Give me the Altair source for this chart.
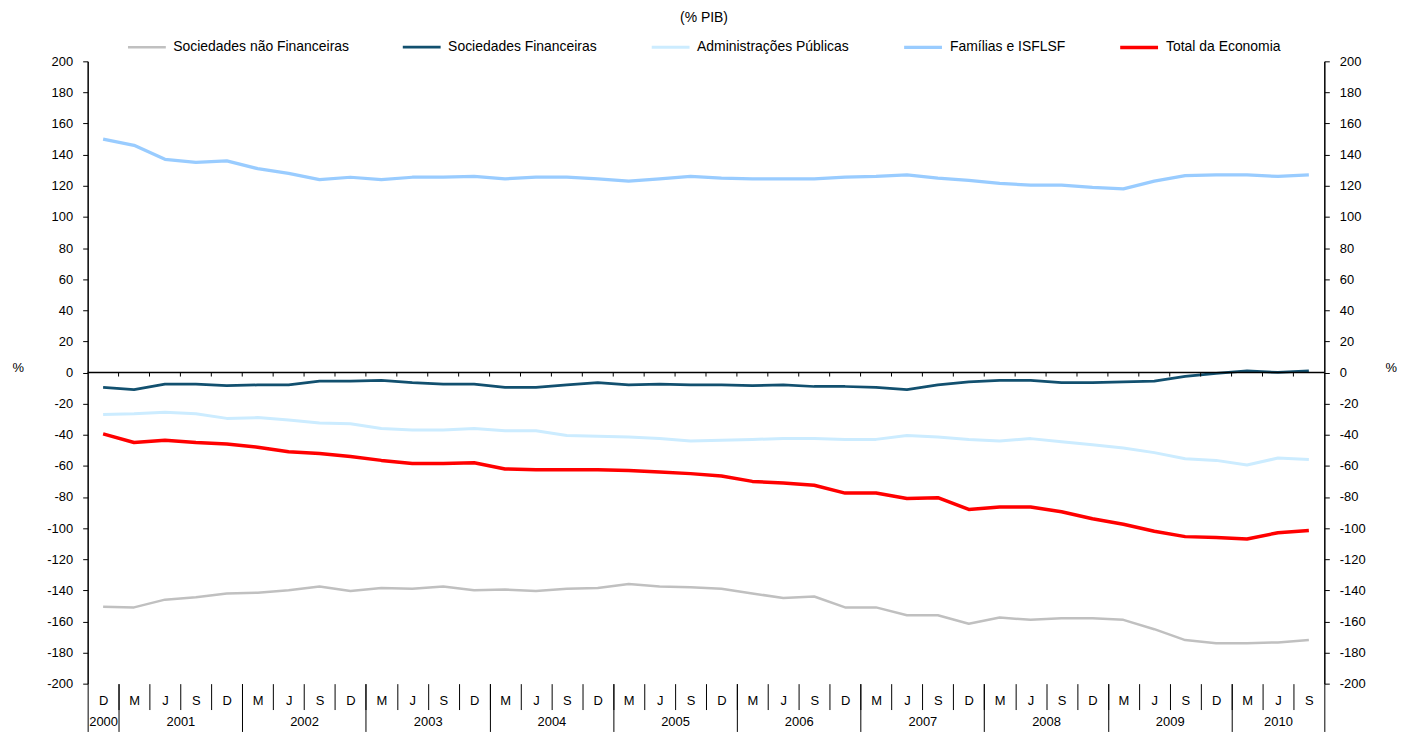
import altair as alt
import pandas as pd

# ---- categories (quarter letters and years) ----
months = ["D"] + ["M", "J", "S", "D"] * 9 + ["M", "J", "S"]
years = [2000] + [y for y in range(2001, 2010) for _ in range(4)] + [2010] * 3

# ---- series values (% PIB) ----
sociedades_nao_fin = [-150.5, -151, -146, -144.5, -142, -141.5, -140, -137.5, -140.5, -138.5,
                      -139, -137.5, -140, -139.5, -140.5, -139, -138.5, -136, -137.5, -138,
                      -139, -142, -145, -144, -151, -151, -156, -156, -161.5, -157.5,
                      -159, -158, -158, -159, -165, -172, -174, -174, -173.5, -172]
sociedades_fin = [-9.5, -11, -7.5, -7.5, -8.5, -8, -8, -5.5, -5.5, -5,
                  -6.5, -7.5, -7.5, -9.5, -9.5, -8, -6.5, -8, -7.5, -8,
                  -8, -8.5, -8, -9, -9, -9.5, -11, -8, -6, -5,
                  -5, -6.5, -6.5, -6, -5.5, -2.5, -0.5, 1, 0, 1]
admin_publicas = [-27, -26.5, -25.5, -26.5, -29.5, -29, -30.5, -32.5, -33, -36,
                  -37, -37, -36, -37.5, -37.5, -40.5, -41, -41.5, -42.5, -44,
                  -43.5, -43, -42.5, -42.5, -43, -43, -40.5, -41.5, -43, -44,
                  -42.5, -44.5, -46.5, -48.5, -51.5, -55.5, -56.5, -59.5, -55, -56]
familias = [150, 146, 137, 135, 136, 131, 128, 124, 125.5, 124,
            125.5, 125.5, 126, 124.5, 125.5, 125.5, 124.5, 123, 124.5, 126,
            125, 124.5, 124.5, 124.5, 125.5, 126, 127, 125, 123.5, 121.5,
            120.5, 120.5, 119, 118, 123, 126.5, 127, 127, 126, 127]
total_economia = [-39.5, -45, -43.5, -45, -46, -48, -51, -52, -54, -56.5,
                  -58.5, -58.5, -58, -62, -62.5, -62.5, -62.5, -63, -64, -65,
                  -66.5, -70, -71, -72.5, -77.5, -77.5, -81, -80.5, -88, -86.5,
                  -86.5, -89.5, -94, -97.5, -102, -105.5, -106, -107, -103, -101.5]

names = ["Sociedades não Financeiras", "Sociedades Financeiras", "Administrações Públicas",
         "Famílias e ISFLSF", "Total da Economia"]
colors = ["#C0C0C0", "#12506F", "#CCECFF", "#99CCFF", "#FF0000"]
widths = [2.5, 3.5, 3.5, 4, 4]
series = [sociedades_nao_fin, sociedades_fin, admin_publicas, familias, total_economia]

N = len(months)
rows = []
for name, vals in zip(names, series):
    for i, v in enumerate(vals):
        rows.append({"series": name, "i": i, "value": v})
df = pd.DataFrame(rows)

# derived positions for axes (category boundaries, year groups)
boundaries = [k + 0.5 for k in range(N - 1)]
year_bounds = [-0.5] + [k - 0.5 for k in range(1, N) if years[k] != years[k - 1]] + [N - 0.5]
year_groups = []
for y in sorted(set(years)):
    idx = [k for k, yy in enumerate(years) if yy == y]
    year_groups.append(((idx[0] + idx[-1]) / 2, str(y)))

month_expr = "[" + ",".join("'%s'" % m for m in months) + "][datum.value]"
year_expr = "''"
for c, lab in reversed(year_groups):
    year_expr = "datum.value == %s ? '%s' : (%s)" % (c, lab, year_expr)

FONT = "Liberation Sans"
xdom = [-0.5, N - 0.5]


def xs():
    return alt.Scale(domain=xdom, nice=False, zero=False)


def ys():
    return alt.Scale(domain=[-200, 200], nice=False, zero=False)


yvals = list(range(-200, 201, 20))

axis_left = alt.Axis(orient="left", values=yvals, grid=False, domainColor="black", domainWidth=1.5,
                     tickColor="black", tickSize=5, labelPadding=10, labelFontSize=13,
                     labelExpr="toString(datum.value)",
                     labelColor="black", labelFont=FONT, title="%", titleAngle=0, titleX=-76,
                     titleY=308, titleAlign="left", titleBaseline="middle", titleFontSize=13,
                     titleFontWeight="normal", titleFont=FONT, titleColor="black")
axis_right = alt.Axis(orient="right", values=yvals, grid=False, domainColor="black", domainWidth=1.5,
                      tickColor="black", tickSize=5, labelPadding=10, labelFontSize=13,
                      labelExpr="toString(datum.value)",
                      labelColor="black", labelFont=FONT, title="%", titleAngle=0, titleX=61,
                      titleY=308, titleAlign="left", titleBaseline="middle", titleFontSize=13,
                      titleFontWeight="normal", titleFont=FONT, titleColor="black")

axis_months = alt.Axis(orient="bottom", values=list(range(N)), labelExpr=month_expr, ticks=False,
                       domain=False, grid=False, labelPadding=11, labelFontSize=13, labelFont=FONT,
                       labelColor="black", labelAngle=0, labelFlush=False, labelOverlap=False,
                       title=None)
axis_cat_sep = alt.Axis(orient="bottom", values=boundaries, labels=False, domain=False, grid=False,
                        tickSize=26, tickColor="black", tickWidth=1, title=None)
axis_year_sep = alt.Axis(orient="bottom", values=year_bounds, labels=False, domain=False, grid=False,
                         tickSize=48, tickColor="black", tickWidth=1, title=None)
axis_years = alt.Axis(orient="bottom", values=[c for c, _ in year_groups], labelExpr=year_expr,
                      ticks=False, domain=False, grid=False, labelPadding=32, labelFontSize=13,
                      labelFont=FONT, labelColor="black", labelAngle=0, labelFlush=False,
                      labelOverlap=False, title=None)

lines = alt.Chart(df).mark_line(strokeCap="butt", strokeJoin="round").encode(
    x=alt.X("i:Q", scale=xs(), axis=axis_months),
    y=alt.Y("value:Q", scale=ys(), axis=axis_left),
    color=alt.Color("series:N", sort=names, scale=alt.Scale(domain=names, range=colors),
                    legend=alt.Legend(orient="none", legendX=39, legendY=-51, direction="horizontal",
                                      title="(% PIB)", titleAnchor="middle", titleOrient="top",
                                      titleFontSize=14, titleFontWeight="normal", titleFont=FONT,
                                      titleColor="black", titlePadding=2,
                                      symbolType="stroke", symbolSize=1444, symbolStrokeWidth=3.5,
                                      labelFontSize=14, labelFont=FONT, labelColor="black",
                                      labelOffset=6, columnPadding=48, padding=0,
                                      labelLimit=400)),
    strokeWidth=alt.StrokeWidth("series:N", sort=names,
                                scale=alt.Scale(domain=names, range=widths), legend=None),
    detail="series:N",
)

zero_line = alt.Chart(pd.DataFrame({"z": [0]})).mark_rule(color="black", strokeWidth=1.5).encode(
    x=alt.X(datum=xdom[0], type="quantitative", scale=xs(), axis=axis_cat_sep),
    x2=alt.X2(datum=xdom[1]),
    y=alt.Y(datum=0, type="quantitative", scale=ys(), axis=axis_right),
)

zero_ticks = alt.Chart(pd.DataFrame({"b": boundaries})).mark_rule(color="black", strokeWidth=1).encode(
    x=alt.X("b:Q", scale=xs(), axis=axis_year_sep),
    y=alt.Y(datum=0, type="quantitative", scale=ys(), axis=None),
    y2=alt.Y2(datum=-2.6),
)

year_anchor = alt.Chart(pd.DataFrame({"c": [c for c, _ in year_groups]})).mark_point(opacity=0).encode(
    x=alt.X("c:Q", scale=xs(), axis=axis_years),
    y=alt.Y(datum=0, type="quantitative", scale=ys(), axis=None),
)

chart = alt.layer(lines, zero_line, zero_ticks, year_anchor).resolve_scale(
    x="independent", y="independent"
).properties(
    width=1242, height=625,
    padding={"left": 80, "top": 52, "right": 74, "bottom": 48},
    autosize=alt.AutoSizeParams(type="none"),
).configure(font=FONT).configure_view(stroke=None)

chart.save("out.html", embed_options={"renderer": "svg", "actions": False})
